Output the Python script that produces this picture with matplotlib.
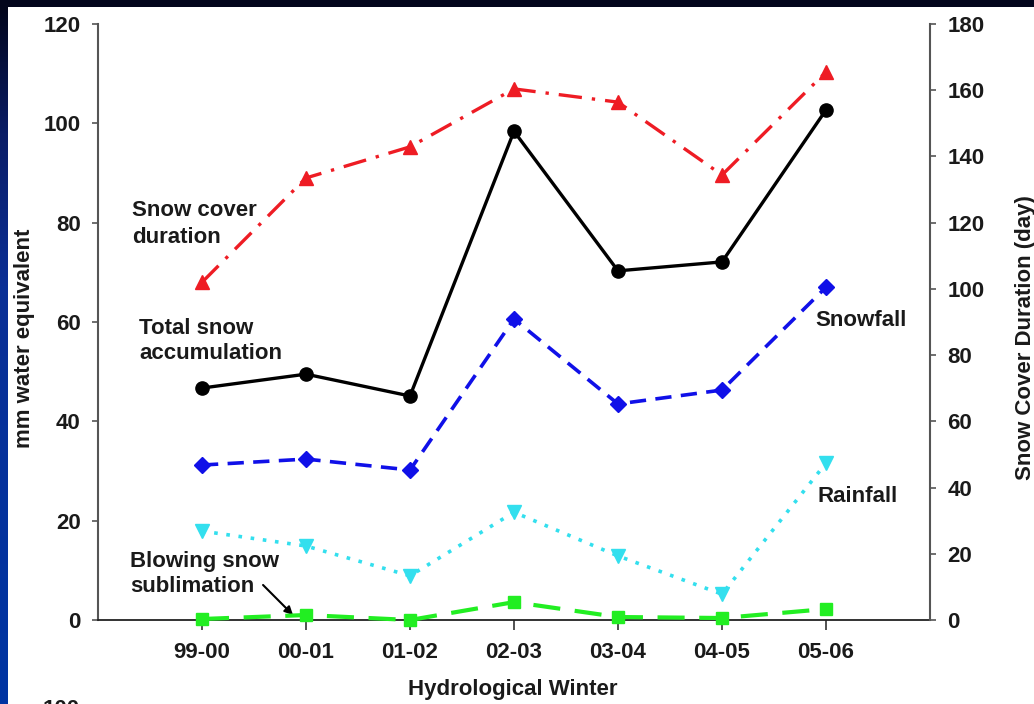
import numpy as np
import matplotlib
matplotlib.use("Agg")
import matplotlib.pyplot as plt
from matplotlib.colors import LinearSegmentedColormap

# Hydrological winters
winters = ["99-00", "00-01", "01-02", "02-03", "03-04", "04-05", "05-06"]

# mm water equivalent (left axis)
total_snow_accumulation = [46.7, 49.5, 45.1, 98.4, 70.3, 72.1, 102.7]
snowfall = [31.2, 32.4, 30.2, 60.6, 43.5, 46.3, 67.0]
rainfall = [17.9, 14.9, 8.9, 21.7, 12.9, 5.2, 31.6]
blowing_snow_sublimation = [0.2, 1.0, 0.0, 3.6, 0.6, 0.4, 2.2]

# days (right axis)
snow_cover_duration = [102.0, 133.5, 142.9, 160.4, 156.4, 134.4, 165.5]

left_ticks = [0, 20, 40, 60, 80, 100, 120]
right_ticks = [0, 20, 40, 60, 80, 100, 120, 140, 160, 180]

plt.rcParams["font.family"] = ["Liberation Sans", "DejaVu Sans"]
plt.rcParams["font.weight"] = "bold"
FS = 16
TXT = "#1a1a1a"

W, H = 1034, 704
fig = plt.figure(figsize=(W / 100, H / 100), dpi=100)
fig.patch.set_facecolor("white")

# slide frame: dark band on top, blue gradient band on the left
top_band = fig.add_axes([0, (H - 7) / H, 1, 7 / H])
top_band.set_facecolor("#03061c")
top_band.set_xticks([]); top_band.set_yticks([])
for s in top_band.spines.values():
    s.set_visible(False)

left_band = fig.add_axes([0, 0, 8 / W, (H - 7) / H])
cmap = LinearSegmentedColormap.from_list(
    "frame", [(0.0, "#0035a3"), (0.6, "#0a2f96"), (0.82, "#0a1d66"), (1.0, "#03061c")])
left_band.imshow(np.linspace(0, 1, 256)[:, None], aspect="auto", cmap=cmap, origin="lower")
left_band.axis("off")

ax = fig.add_axes([98 / W, (H - 620) / H, (930 - 98) / W, (620 - 24) / H])
ax2 = ax.twinx()

x = np.arange(len(winters))

ax.plot(x, total_snow_accumulation, color="black", lw=2.4, marker="o", ms=9.5,
        clip_on=False, zorder=5)
ax.plot(x, snowfall, color="#1010e8", lw=2.6, ls=(0, (4.5, 2.6)), marker="D", ms=8,
        clip_on=False, zorder=4)
ax.plot(x, rainfall, color="#33dfee", lw=2.6, ls=(0, (1, 2.4)), marker="v", ms=10,
        clip_on=False, zorder=3)
ax.plot(x, blowing_snow_sublimation, color="#22ee22", lw=3.0, ls=(0, (6.5, 3.5)), marker="s",
        ms=8.5, clip_on=False, zorder=6)
ax2.plot(x, snow_cover_duration, color="#ee1c24", lw=2.4, ls=(0, (7, 3, 1, 3)), marker="^",
         ms=10, clip_on=False, zorder=5)

ax.set_xlim(-1, len(winters))
ax.set_ylim(0, 120)
ax2.set_ylim(0, 180)
ax.set_xticks(x)
ax.set_xticklabels(winters)
ax.set_yticks(left_ticks)
ax2.set_yticks(right_ticks)

ax.tick_params(axis="x", direction="out", length=7, width=1.2, pad=9, labelsize=FS,
               labelcolor=TXT, color="#333333")
ax.tick_params(axis="y", direction="out", length=4.5, width=1.2, pad=8, labelsize=FS,
               labelcolor=TXT, color="#555555")
ax2.tick_params(axis="y", direction="out", length=4.5, width=1.2, pad=8, labelsize=FS,
                labelcolor=TXT, color="#555555")

for a in (ax, ax2):
    a.spines["top"].set_visible(False)
    a.set_facecolor("none")
ax.spines["left"].set_color("#555555")
ax.spines["left"].set_linewidth(1.5)
ax2.spines["right"].set_color("#555555")
ax2.spines["right"].set_linewidth(1.5)
ax.spines["bottom"].set_color("#222222")
ax.spines["bottom"].set_linewidth(1.3)
ax2.spines["left"].set_visible(False)
ax2.spines["bottom"].set_visible(False)
ax.spines["right"].set_visible(False)

# axis titles
fig.text(513 / W, (H - 690) / H, "Hydrological Winter", ha="center", va="center",
         fontsize=FS, color=TXT)
fig.text(25 / W, (H - 338) / H, "mm water equivalent", ha="center", va="center",
         rotation=90, fontsize=FS, color=TXT)
fig.text(1025 / W, (H - 338) / H, "Snow Cover Duration (day)", ha="center", va="center",
         rotation=90, fontsize=FS, color=TXT)

# series labels
ax.text(-0.673, 84.5, "Snow cover\nduration", ha="left", va="top", fontsize=FS, color=TXT,
        linespacing=1.35)
ax.text(-0.606, 60.8, "Total snow\naccumulation", ha="left", va="top", fontsize=FS, color=TXT,
        linespacing=1.25)
ax.text(5.894, 60.4, "Snowfall", ha="left", va="center", fontsize=FS, color=TXT)
ax.text(5.923, 24.8, "Rainfall", ha="left", va="center", fontsize=FS, color=TXT)
ax.text(-0.692, 13.8, "Blowing snow\nsublimation", ha="left", va="top", fontsize=FS, color=TXT,
        linespacing=1.25)
ax.annotate("", xy=(0.875, 1.0), xytext=(0.587, 7.05),
            arrowprops=dict(arrowstyle="-|>", color="black", lw=1.5, mutation_scale=12,
                            shrinkA=0, shrinkB=0))

# top of the next panel's tick label
fig.text(43 / W, (H - 699) / H, "100", ha="left", va="top", fontsize=FS, color=TXT)

fig.savefig("out.png", dpi=100)
